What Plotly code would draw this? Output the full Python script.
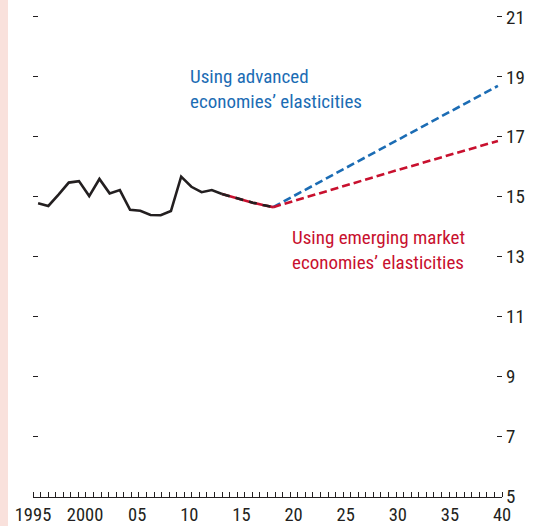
import plotly.graph_objects as go

# ---- data ----
hist_years = list(range(1995, 2014))
hist_vals = [14.78, 14.69, 15.07, 15.47, 15.52, 15.02, 15.59, 15.11, 15.22, 14.56,
             14.53, 14.39, 14.38, 14.52, 15.67, 15.33, 15.15, 15.22, 15.09]
near_years = [2013, 2014, 2015, 2016, 2017, 2018]
near_vals = [15.09, 14.99, 14.90, 14.80, 14.72, 14.65]
adv_years = [2018, 2030, 2040]
adv_vals = [14.65, 16.87, 18.70]
em_years = [2018, 2030, 2040]
em_vals = [14.65, 15.87, 16.86]
x_ticktext = ["1995", "2000", "05", "10", "15", "20", "25", "30", "35", "40"]
y_tickvals = [5, 7, 9, 11, 13, 15, 17, 19, 21]
y_ticktext = ["5", "7", "9", "11", "13", "15", "17", "19", "21"]

BLACK = "#231f20"
BLUE = "#1b6cb4"
RED = "#c8102e"
FONT = "Liberation Sans Narrow, Arial Narrow, Roboto Condensed, Roboto, sans-serif"

X0, X1 = 1994.5, 2040.4
n = len(x_ticktext)
x_tickvals = [X0 + i * (X1 - X0) / (n - 1) for i in range(n)]

fig = go.Figure()
fig.add_trace(go.Scatter(x=hist_years, y=hist_vals, mode="lines",
                         line=dict(color=BLACK, width=2.6), hoverinfo="skip"))
fig.add_trace(go.Scatter(x=near_years, y=near_vals, mode="lines",
                         line=dict(color=RED, width=2.6), hoverinfo="skip"))
fig.add_trace(go.Scatter(x=near_years, y=near_vals, mode="lines",
                         line=dict(color=BLACK, width=2.6, dash="8px,6px"), hoverinfo="skip"))
fig.add_trace(go.Scatter(x=adv_years, y=adv_vals, mode="lines",
                         line=dict(color=BLUE, width=2.6, dash="8px,4px"), hoverinfo="skip"))
fig.add_trace(go.Scatter(x=em_years, y=em_vals, mode="lines",
                         line=dict(color=RED, width=2.6, dash="8px,4px"), hoverinfo="skip"))
# invisible trace for left axis
fig.add_trace(go.Scatter(x=[X0], y=[5], yaxis="y2", mode="markers",
                         marker=dict(opacity=0), hoverinfo="skip"))

fig.add_annotation(x=2009.7, y=19.45, xref="x", yref="y", xanchor="left", yanchor="top",
                   text="Using advanced<br>economies’ elasticities", showarrow=False,
                   align="left", font=dict(family=FONT, size=19, color=BLUE))
fig.add_annotation(x=2019.7, y=14.1, xref="x", yref="y", xanchor="left", yanchor="top",
                   text="Using emerging market<br>economies’ elasticities", showarrow=False,
                   align="left", font=dict(family=FONT, size=19, color=RED))

# pink strip on the left edge
fig.add_shape(type="rect", xref="paper", yref="paper",
              x0=-33 / 469, x1=-25 / 469, y0=-1, y1=2,
              fillcolor="#f9e1dc", line=dict(width=0), layer="below")

YR = [4.97, 21.1]
fig.update_layout(
    width=537, height=526,
    margin=dict(l=33, r=35, t=14, b=29, autoexpand=False),
    paper_bgcolor="white", plot_bgcolor="white",
    showlegend=False,
    font=dict(family=FONT, size=19, color=BLACK),
    xaxis=dict(range=[X0, X1], tickvals=x_tickvals, ticktext=x_ticktext,
               ticks="", showgrid=False, zeroline=False, automargin=False,
               showline=True, linecolor=BLACK, linewidth=1, ticklabelstandoff=1,
               tickfont=dict(family=FONT, size=18.5, color=BLACK),
               minor=dict(ticks="inside", ticklen=5, tickwidth=1, tickcolor=BLACK,
                          tick0=X0, dtick=(X1 - X0) / 62, showgrid=False)),
    yaxis=dict(range=YR, side="right", tickvals=y_tickvals, ticktext=y_ticktext,
               ticks="inside", ticklen=5, tickwidth=1, tickcolor=BLACK,
               ticklabelstandoff=3, automargin=False,
               showgrid=False, zeroline=False, showline=False,
               tickfont=dict(family=FONT, size=19, color=BLACK)),
    yaxis2=dict(range=YR, side="left", overlaying="y", tickvals=y_tickvals[1:],
                ticks="inside", ticklen=5, tickwidth=1, tickcolor=BLACK, automargin=False,
                showticklabels=False, showgrid=False, zeroline=False, showline=False),
)

fig.write_html("out.html", config={"displayModeBar": False},
               post_script="document.body.style.margin='0';document.body.style.padding='0';")
